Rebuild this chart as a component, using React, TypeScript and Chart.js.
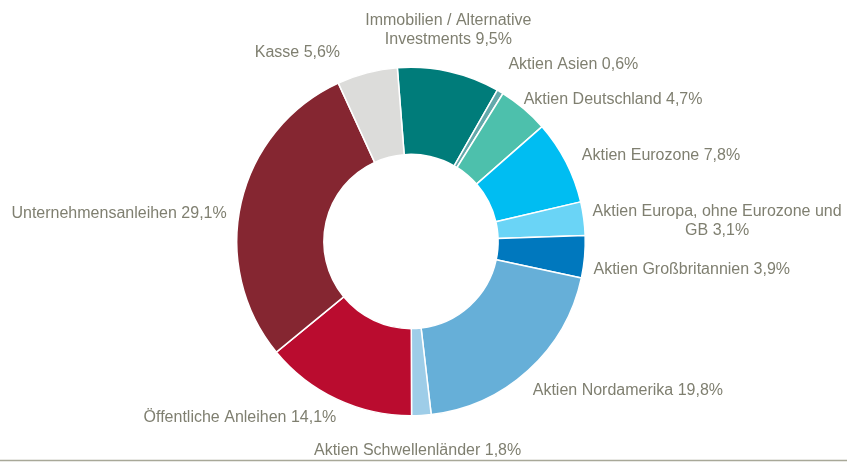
import React, { useEffect, useRef } from "react";
import { Chart, registerables } from "chart.js";

Chart.register(...registerables);

const categories: string[][] = [
  ["Immobilien / Alternative", "Investments 9,5%"],
  ["Aktien Asien 0,6%"],
  ["Aktien Deutschland 4,7%"],
  ["Aktien Eurozone 7,8%"],
  ["Aktien Europa, ohne Eurozone und", "GB 3,1%"],
  ["Aktien Großbritannien 3,9%"],
  ["Aktien Nordamerika 19,8%"],
  ["Aktien Schwellenländer 1,8%"],
  ["Öffentliche Anleihen 14,1%"],
  ["Unternehmensanleihen 29,1%"],
  ["Kasse 5,6%"],
];

const shares: number[] = [9.5, 0.6, 4.7, 7.8, 3.1, 3.9, 19.8, 1.8, 14.1, 29.1, 5.6];

const sliceColors: string[] = [
  "#007C7A",
  "#63A9AB",
  "#4DC0AC",
  "#00BDF2",
  "#6AD4F6",
  "#0078BE",
  "#66AFD8",
  "#9ECDE8",
  "#BA0C2F",
  "#852631",
  "#DCDCDA",
];

// label layout nudges (px) relative to the arc-derived anchor
const labelNudges: number[][] = [
  [-5, -22],
  [-2, -10],
  [-13, 6],
  [-2, 3],
  [-11, 5],
  [-11, 11],
  [-9, 5],
  [-5, 15],
  [8, 0],
  [5, 16],
  [-22, -1],
];

const TEXT_COLOR = "#7F7F70";
const FONT = "16px 'Liberation Sans', Arial, sans-serif";
const LINE_H = 18.5;

const labelPlugin = {
  id: "outerLabels",
  afterDatasetsDraw(chart: any) {
    const ctx = chart.ctx;
    const meta = chart.getDatasetMeta(0);
    ctx.save();
    ctx.font = FONT;
    ctx.fillStyle = TEXT_COLOR;
    ctx.textBaseline = "middle";
    meta.data.forEach((arc: any, i: number) => {
      const mid = (arc.startAngle + arc.endAngle) / 2;
      const r = arc.outerRadius + 20;
      const px = arc.x + Math.cos(mid) * r;
      const py = arc.y + Math.sin(mid) * r;
      const horiz = Math.cos(mid);
      const lines = categories[i];
      const widths = lines.map((l) => ctx.measureText(l).width);
      const maxW = Math.max(...widths);
      const [dx, dy] = labelNudges[i];
      const ax = px + dx;
      const ay = py + dy;
      let cx: number;
      if (horiz > 0.235) cx = ax + maxW / 2;
      else if (horiz < -0.235) cx = ax - maxW / 2;
      else cx = ax;
      ctx.textAlign = "center";
      lines.forEach((line, j) => {
        const y = ay + (j - (lines.length - 1) / 2) * LINE_H;
        ctx.fillText(line, cx, y);
      });
    });
    // bottom rule
    ctx.strokeStyle = "#A8A898";
    ctx.lineWidth = 1.5;
    ctx.beginPath();
    ctx.moveTo(0, 460.5);
    ctx.lineTo(chart.width, 460.5);
    ctx.stroke();
    ctx.restore();
  },
};

export default function App() {
  const ref = useRef<HTMLCanvasElement | null>(null);
  useEffect(() => {
    if (!ref.current) return;
    const chart = new Chart(ref.current, {
      type: "doughnut",
      data: {
        labels: categories.map((c) => c.join(" ")),
        datasets: [
          {
            data: shares,
            backgroundColor: sliceColors,
            borderColor: "#FFFFFF",
            borderWidth: 1.5,
          },
        ],
      },
      options: {
        animation: false,
        responsive: false,
        devicePixelRatio: 1,
        rotation: -4.5,
        cutout: "50%",
        layout: { padding: { left: 236, right: 261, top: 66.5, bottom: 46.5 } },
        plugins: {
          legend: { display: false },
          tooltip: { enabled: false },
        },
      },
      plugins: [labelPlugin],
    });
    return () => chart.destroy();
  }, []);
  return (
    <div style={{ position: "fixed", left: 0, top: 0, width: 847, height: 463, background: "#fff" }}>
      <canvas ref={ref} width={847} height={463} style={{ width: 847, height: 463 }} />
    </div>
  );
}
